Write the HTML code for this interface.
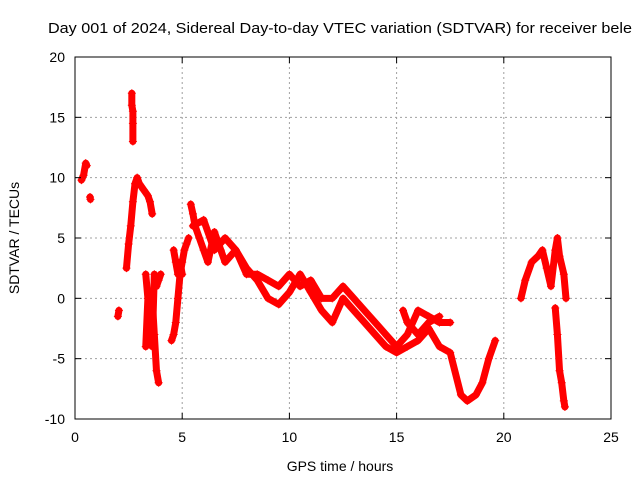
<!DOCTYPE html>
<html><head><meta charset="utf-8"><style>
body{margin:0;background:#fff;}
svg{display:block;font-family:"Liberation Sans",sans-serif;}
</style></head><body>
<svg id="chart" width="640" height="480">
<text x="48" y="33" font-size="15" fill="#000" textLength="584" lengthAdjust="spacingAndGlyphs">Day 001 of 2024, Sidereal Day-to-day VTEC variation (SDTVAR) for receiver bele</text>
<g id="grid"></g><g id="series"></g><g id="axes"></g>
<text x="340" y="471" font-size="14" text-anchor="middle">GPS time / hours</text>
<text x="19" y="238" font-size="14" text-anchor="middle" transform="rotate(-90 19 238)">SDTVAR / TECUs</text>
</svg>
<script>
const xTicks=[0,5,10,15,20,25];
const yTicks=[-10,-5,0,5,10,15,20];
const trackA=[[0.3,9.8],[0.4,10.2],[0.5,11.2],[0.55,11]];
const trackA2=[[0.7,8.4],[0.72,8.2]];
const trackA3=[[2.0,-1.5],[2.05,-1]];
const trackB=[[2.4,2.5],[2.5,4.5],[2.6,6],[2.7,8],[2.8,9.5],[2.9,10],[3.0,9.5],[3.2,9],[3.4,8.5],[3.5,8],[3.6,7]];
const trackB2=[[2.65,17],[2.65,16],[2.7,15.5],[2.7,14.5],[2.7,13]];
const trackC=[[3.3,2],[3.4,0],[3.3,-4],[3.4,-3.5],[3.5,-2],[3.6,0],[3.7,-3],[3.8,-6],[3.9,-7]];
const trackC2=[[3.6,-4],[3.7,2],[3.8,1],[3.9,1.5],[4.0,2]];
const trackD=[[4.5,-3.5],[4.6,-3],[4.7,-2],[4.8,0],[4.9,2],[5.0,3],[5.1,4],[5.2,4.5],[5.3,5]];
const trackD2=[[4.6,4],[4.7,3],[4.8,2],[4.9,3],[5.0,2]];
const trackUpper=[[5.4,7.8],[5.5,7],[5.6,6],[5.8,5],[6.0,4],[6.2,3],[6.5,5.5],[6.8,4],[7,3],[7.5,4],[8,2],[8.5,2],[9,1.5],[9.5,1],[10,2],[10.5,1],[11,1.5],[11.5,0],[12,0],[12.5,1],[13,0],[13.5,-1],[14,-2],[14.5,-3],[15,-4],[15.5,-3],[16,-1],[16.5,-1.5],[17,-2],[17.5,-2]];
const trackLower=[[5.5,6],[6,6.5],[6.5,4],[7,5],[7.5,4],[8,2.5],[8.5,1.5],[9,0],[9.5,-0.5],[10,0.5],[10.5,2],[11,0.5],[11.5,-1],[12,-2],[12.5,0],[13,-1],[13.5,-2],[14,-3],[14.5,-4],[15,-4.5],[15.5,-4],[16,-3.5],[16.5,-2.5],[17,-4],[17.5,-4.5],[18,-8],[18.3,-8.5],[18.7,-8],[19,-7],[19.3,-5],[19.6,-3.5]];
const trackCross=[[15.3,-1],[15.5,-2],[16,-3],[16.5,-2],[17,-1.5]];
const trackE=[[20.8,0],[21,1.5],[21.3,3],[21.6,3.5],[21.8,4],[22,2.5],[22.2,1],[22.4,4],[22.5,5],[22.6,3.5],[22.8,2],[22.9,0]];
const trackF=[[22.4,-0.8],[22.5,-3],[22.6,-6],[22.7,-7],[22.8,-8.5],[22.85,-9]];
const tracks=[trackA,trackA2,trackA3,trackB,trackB2,trackC,trackC2,trackD,trackD2,trackUpper,trackLower,trackCross,trackE,trackF];
const L=75,R=611,T=57,B=419;
const sx=v=>L+(v-0)/25*(R-L);
const sy=v=>B-(v+10)/30*(B-T);
const NS="http://www.w3.org/2000/svg";
function mk(t,a,p){const e=document.createElementNS(NS,t);for(const k in a)e.setAttribute(k,a[k]);p.appendChild(e);return e;}
const g=document.getElementById('grid'),ax=document.getElementById('axes'),s=document.getElementById('series');
xTicks.forEach(v=>{
 if(v>0&&v<25){const l=mk('line',{x1:sx(v),x2:sx(v),y1:T,y2:B,stroke:'#a0a0a0','stroke-dasharray':'2,3'},g);
 
 }
 const t=mk('text',{x:sx(v),y:B+23,'font-size':14,'text-anchor':'middle'},ax);t.textContent=v;
 
 
 mk('line',{x1:sx(v),x2:sx(v),y1:B,y2:B-6,stroke:'#000'},ax);
 mk('line',{x1:sx(v),x2:sx(v),y1:T,y2:T+6,stroke:'#000'},ax);
});
yTicks.forEach(v=>{
 if(v>-10&&v<20){const l=mk('line',{x1:L,x2:R,y1:sy(v),y2:sy(v),stroke:'#a0a0a0','stroke-dasharray':'2,3'},g);
 
 }
 const t=mk('text',{x:L-10,y:sy(v)+5,'font-size':14,'text-anchor':'end'},ax);t.textContent=v;
 
 
 mk('line',{x1:L,x2:L+6,y1:sy(v),y2:sy(v),stroke:'#000'},ax);
 mk('line',{x1:R,x2:R-6,y1:sy(v),y2:sy(v),stroke:'#000'},ax);
});
const fr=mk('rect',{x:L,y:T,width:R-L,height:B-T,fill:'none',stroke:'#000'},ax);


tracks.forEach(tr=>{
 const pl=mk('polyline',{points:tr.map(p=>sx(p[0])+','+sy(p[1])).join(' '),fill:'none',stroke:'#f00','stroke-width':7,'stroke-linejoin':'round','stroke-linecap':'round'},s);
 
 
 tr.forEach(p=>{const x=sx(p[0]),y=sy(p[1]);
  const m=mk('path',{d:`M${x-4},${y}h8M${x},${y-4}v8`,stroke:'#f00','stroke-width':1},s);
  
  });
});
</script>
</body></html>
